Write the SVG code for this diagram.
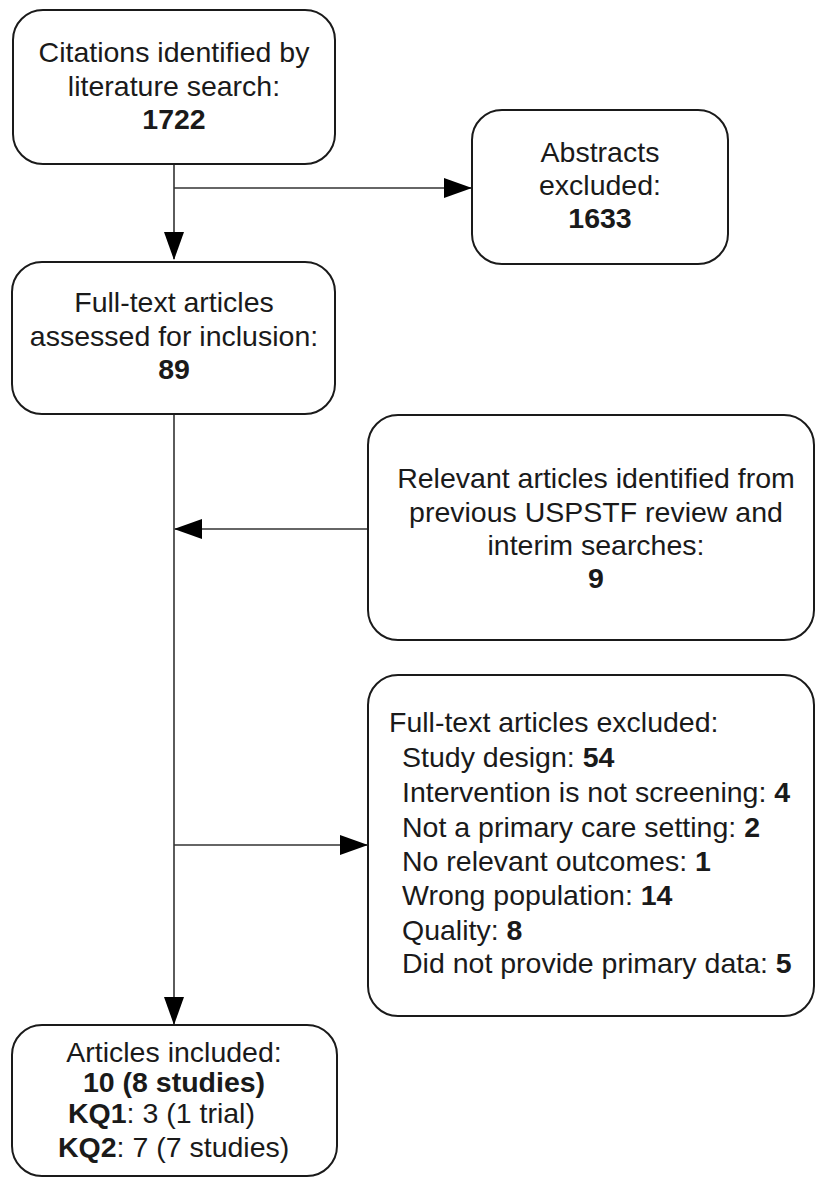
<svg xmlns="http://www.w3.org/2000/svg" width="816" height="1177" viewBox="0 0 816 1177">
<style>
.box{fill:#fff;stroke:#1a1a1a;stroke-width:2}
.t{font-family:"Liberation Sans",Arial,sans-serif;font-size:28.5px;fill:#1a1a1a}
.c{text-anchor:middle}
.b{font-weight:bold}
.line{stroke:#333;stroke-width:1.6;fill:none}
</style>
<defs>
<marker id="arr" markerWidth="28" markerHeight="20" refX="27" refY="10" orient="auto" markerUnits="userSpaceOnUse">
<path d="M0,0 L28,10 L0,20 Z" fill="#000"/>
</marker>
</defs>
<rect width="816" height="1177" fill="#fff"/>
<g id="connectors">
<line class="line" x1="174" y1="164" x2="174" y2="259" marker-end="url(#arr)"/>
<line class="line" x1="174" y1="188" x2="471" y2="188" marker-end="url(#arr)"/>
<line class="line" x1="174" y1="414" x2="174" y2="1024" marker-end="url(#arr)"/>
<line class="line" x1="368" y1="529" x2="175" y2="529" marker-end="url(#arr)"/>
<line class="line" x1="174" y1="845" x2="367" y2="845" marker-end="url(#arr)"/>
</g>
<g id="n1">
<rect class="box" x="13" y="10" width="322" height="154" rx="30"/>
<text class="t c" x="174" y="62">Citations identified by</text>
<text class="t c" x="174" y="96">literature search:</text>
<text class="t c b" x="174" y="129">1722</text>
</g>
<g id="n2">
<rect class="box" x="472" y="110" width="256" height="154" rx="30"/>
<text class="t c" x="600" y="162">Abstracts</text>
<text class="t c" x="600" y="195">excluded:</text>
<text class="t c b" x="600" y="228">1633</text>
</g>
<g id="n3">
<rect class="box" x="12" y="262" width="323" height="152" rx="30"/>
<text class="t c" x="174" y="312">Full-text articles</text>
<text class="t c" x="174" y="346">assessed for inclusion:</text>
<text class="t c b" x="174" y="379">89</text>
</g>
<g id="n4">
<rect class="box" x="368" y="415" width="446" height="225" rx="30"/>
<text class="t c" x="596" y="488">Relevant articles identified from</text>
<text class="t c" x="596" y="522">previous USPSTF review and</text>
<text class="t c" x="596" y="555">interim searches:</text>
<text class="t c b" x="596" y="588">9</text>
</g>
<g id="n5">
<rect class="box" x="368" y="675" width="446" height="341" rx="30"/>
<text class="t" x="389" y="732">Full-text articles excluded:</text>
<text class="t" x="402" y="767">Study design: <tspan class="b">54</tspan></text>
<text class="t" x="402" y="802">Intervention is not screening: <tspan class="b">4</tspan></text>
<text class="t" x="402" y="837">Not a primary care setting: <tspan class="b">2</tspan></text>
<text class="t" x="402" y="871">No relevant outcomes: <tspan class="b">1</tspan></text>
<text class="t" x="402" y="905">Wrong population: <tspan class="b">14</tspan></text>
<text class="t" x="402" y="940">Quality: <tspan class="b">8</tspan></text>
<text class="t" x="402" y="973">Did not provide primary data: <tspan class="b">5</tspan></text>
</g>
<g id="n6">
<rect class="box" x="12" y="1025" width="325" height="151" rx="30"/>
<text class="t c" x="174" y="1062">Articles included:</text>
<text class="t c b" x="174" y="1092">10 (8 studies)</text>
<text class="t" x="68" y="1123"><tspan class="b">KQ1</tspan>: 3 (1 trial)</text>
<text class="t" x="58" y="1157"><tspan class="b">KQ2</tspan>: 7 (7 studies)</text>
</g>
</svg>
